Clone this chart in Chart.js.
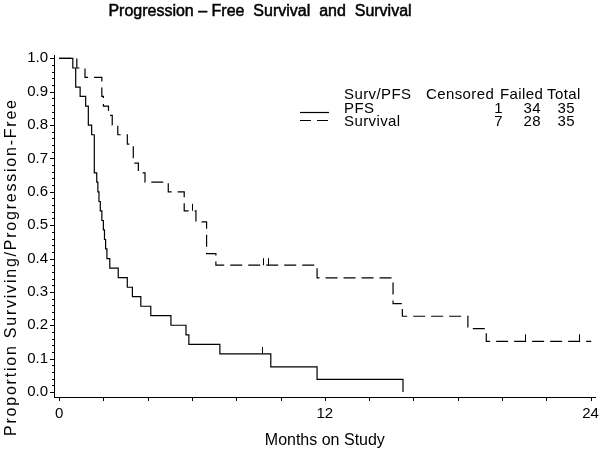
<!DOCTYPE html>
<html>
<head>
<meta charset="utf-8">
<script src="https://cdn.jsdelivr.net/npm/chart.js@4.4.0/dist/chart.umd.min.js"></script>
<style>
  html, body { margin: 0; padding: 0; background: #fff; }
  #wrap { width: 601px; height: 450px; }
</style>
</head>
<body>
<div id="wrap"><canvas id="kmChart" width="601" height="450"></canvas></div>
<script>
// Kaplan-Meier steps: month of event, proportion after the step
const pfsMonths = [0, 0.62, 0.75, 0.95, 1.2, 1.32, 1.47, 1.59, 1.7, 1.75, 1.8, 1.86, 1.93, 2.0, 2.05, 2.1, 2.16, 2.29,
    2.67, 3.08, 3.31, 3.69, 4.14, 5.05, 5.73, 5.86, 7.26, 9.56, 11.65, 15.53];
const pfsValues = [1.0, 0.971, 0.914, 0.886, 0.857, 0.8, 0.771, 0.657, 0.629, 0.6, 0.571, 0.543, 0.514, 0.486, 0.457, 0.429, 0.4, 0.371,
    0.343, 0.314, 0.286, 0.257, 0.229, 0.2, 0.171, 0.143, 0.114, 0.075, 0.038, 0.0];
const pfsCensorMonths = [9.17];
const pfsCensorValues = [0.114];

const survMonths = [0, 0.8, 1.17, 1.93, 2.0, 2.23, 2.4, 2.65, 3.08, 3.35, 3.58, 3.88, 4.93, 5.65, 6.18, 6.66, 7.08,
    11.65, 15.08, 15.5, 18.46, 19.29, 24.03];
const survValues = [1.0, 0.971, 0.943, 0.886, 0.857, 0.829, 0.8, 0.771, 0.743, 0.686, 0.657, 0.629, 0.6, 0.543, 0.51, 0.415, 0.38,
    0.342, 0.265, 0.227, 0.19, 0.152, 0.152];
const survCensorMonths = [5.99, 9.19, 9.44, 21.02, 23.46];
const survCensorValues = [0.543, 0.38, 0.38, 0.152, 0.152];

const xTickLabels = [0, 12, 24];
const yTickLabels = [0, 0.1, 0.2, 0.3, 0.4, 0.5, 0.6, 0.7, 0.8, 0.9, 1.0];

const legendHeader = ['Surv/PFS', 'Censored', 'Failed', 'Total'];
const legendNames = ['PFS', 'Survival'];
const censoredCounts = [1, 7];
const failedCounts = [34, 28];
const totalCounts = [35, 35];

const FONT = "'Liberation Sans', Arial, sans-serif";
const DASH = [12, 6];

function toPoints(xs, ys) {
    return xs.map((x, i) => ({ x: x, y: ys[i] }));
}

// draw text stretched (letter spacing) to a given width
function spacedText(ctx, text, x, y, width, heavy) {
    ctx.letterSpacing = '0px';
    const w = ctx.measureText(text).width;
    const gap = Math.max(0, (width - w) / (text.length - 1));
    ctx.letterSpacing = gap + 'px';
    ctx.fillText(text, x + gap / 2, y);
    if (heavy) {
        ctx.lineWidth = heavy;
        ctx.strokeText(text, x + gap / 2, y);
    }
    ctx.letterSpacing = '0px';
}

// title, axis titles, minor ticks, censor marks and the summary table
const decorations = {
    id: 'decorations',
    afterDraw(chart) {
        const ctx = chart.ctx;
        const xs = chart.scales.x;
        const ys = chart.scales.y;
        const area = chart.chartArea;
        ctx.save();
        ctx.fillStyle = '#000';
        ctx.strokeStyle = '#000';
        ctx.lineWidth = 1;

        // tick marks
        ctx.beginPath();
        for (let m = 0; m <= 24; m += 2) {
            const px = Math.round(xs.getPixelForValue(m)) + 0.5;
            ctx.moveTo(px, area.bottom);
            ctx.lineTo(px, area.bottom + 4);
        }
        for (let i = 0; i <= 50; i++) {
            const py = Math.round(ys.getPixelForValue(i / 50)) + 0.5;
            const len = i % 5 === 0 ? 4 : 2;
            ctx.moveTo(area.left, py);
            ctx.lineTo(area.left - len, py);
        }
        ctx.stroke();

        // censor marks
        ctx.beginPath();
        const marks = [[pfsCensorMonths, pfsCensorValues], [survCensorMonths, survCensorValues]];
        marks.forEach(([ms, vs]) => {
            ms.forEach((m, i) => {
                const px = Math.round(xs.getPixelForValue(m)) + 0.5;
                const py = ys.getPixelForValue(vs[i]);
                ctx.moveTo(px, py);
                ctx.lineTo(px, py - 7);
            });
        });
        ctx.stroke();

        // title
        ctx.font = '16px ' + FONT;
        ctx.textAlign = 'center';
        ctx.textBaseline = 'alphabetic';
        spacedText(ctx, 'Progression \u2013 Free  Survival  and  Survival', 260, 16, 300, 0.5);

        // axis titles
        ctx.font = '16px ' + FONT;
        spacedText(ctx, 'Months on Study', (xs.getPixelForValue(0) + xs.getPixelForValue(24)) / 2, 445, 120);
        ctx.save();
        ctx.translate(16, 268);
        ctx.rotate(-Math.PI / 2);
        spacedText(ctx, 'Proportion Surviving/Progression-Free', 0, 0, 336);
        ctx.restore();

        // summary table
        ctx.font = '15px ' + FONT;
        ctx.letterSpacing = '0.4px';
        ctx.textAlign = 'left';
        ctx.fillText(legendHeader[0], 344, 99);
        ctx.fillText(legendHeader[1], 426, 99);
        ctx.fillText(legendHeader[2], 500, 99);
        ctx.fillText(legendHeader[3], 547, 99);
        const rowY = [112.7, 125.5];
        const lineY = [112.5, 120.5];
        legendNames.forEach((name, i) => {
            ctx.textAlign = 'left';
            ctx.fillText(name, 344, rowY[i]);
            ctx.textAlign = 'right';
            ctx.fillText(String(censoredCounts[i]), 503, rowY[i]);
            ctx.fillText(String(failedCounts[i]), 541, rowY[i]);
            ctx.fillText(String(totalCounts[i]), 575, rowY[i]);
            ctx.beginPath();
            ctx.lineWidth = 1.2;
            ctx.setLineDash(i === 0 ? [] : [11, 6]);
            ctx.moveTo(300, lineY[i]);
            ctx.lineTo(329, lineY[i]);
            ctx.stroke();
        });
        ctx.restore();
    }
};

const ctx = document.getElementById('kmChart').getContext('2d');
const kmChart = new Chart(ctx, {
    type: 'scatter',
    data: {
        datasets: [{
            label: legendNames[0],
            data: toPoints(pfsMonths, pfsValues),
            showLine: true,
            stepped: 'before',
            borderColor: '#000',
            borderWidth: 1.2,
            pointRadius: 0,
            pointHitRadius: 0
        }, {
            label: legendNames[1],
            data: toPoints(survMonths, survValues),
            showLine: true,
            stepped: 'before',
            borderColor: '#000',
            borderWidth: 1.2,
            borderDash: DASH,
            pointRadius: 0,
            pointHitRadius: 0
        }]
    },
    options: {
        responsive: false,
        animation: false,
        layout: { padding: { left: 0, top: 55, right: 6, bottom: 0 } },
        plugins: {
            legend: { display: false },
            tooltip: { enabled: false },
            title: { display: false }
        },
        scales: {
            x: {
                type: 'linear',
                min: -0.23,
                max: 24.2,
                afterBuildTicks: (scale) => { scale.ticks = xTickLabels.map(v => ({ value: v })); },
                afterFit: (scale) => {
                    scale.height = 53;
                    scale.paddingLeft = 0;
                    scale.paddingRight = 0;
                },
                grid: { display: false, drawTicks: false },
                border: { display: true, color: '#000', width: 1 },
                ticks: {
                    color: '#000',
                    padding: 8,
                    maxRotation: 0,
                    font: { family: FONT, size: 15 },
                    callback: (v) => String(v)
                }
            },
            y: {
                type: 'linear',
                min: -0.015,
                max: 1.01,
                afterBuildTicks: (scale) => { scale.ticks = yTickLabels.map(v => ({ value: v })); },
                afterFit: (scale) => {
                    scale.width = 54;
                    scale.paddingTop = 0;
                    scale.paddingBottom = 0;
                },
                grid: { display: false, drawTicks: false },
                border: { display: true, color: '#000', width: 1 },
                ticks: {
                    color: '#000',
                    padding: 6,
                    font: { family: FONT, size: 15 },
                    callback: (v) => v.toFixed(1)
                }
            }
        }
    },
    plugins: [decorations]
});
</script>
</body>
</html>
